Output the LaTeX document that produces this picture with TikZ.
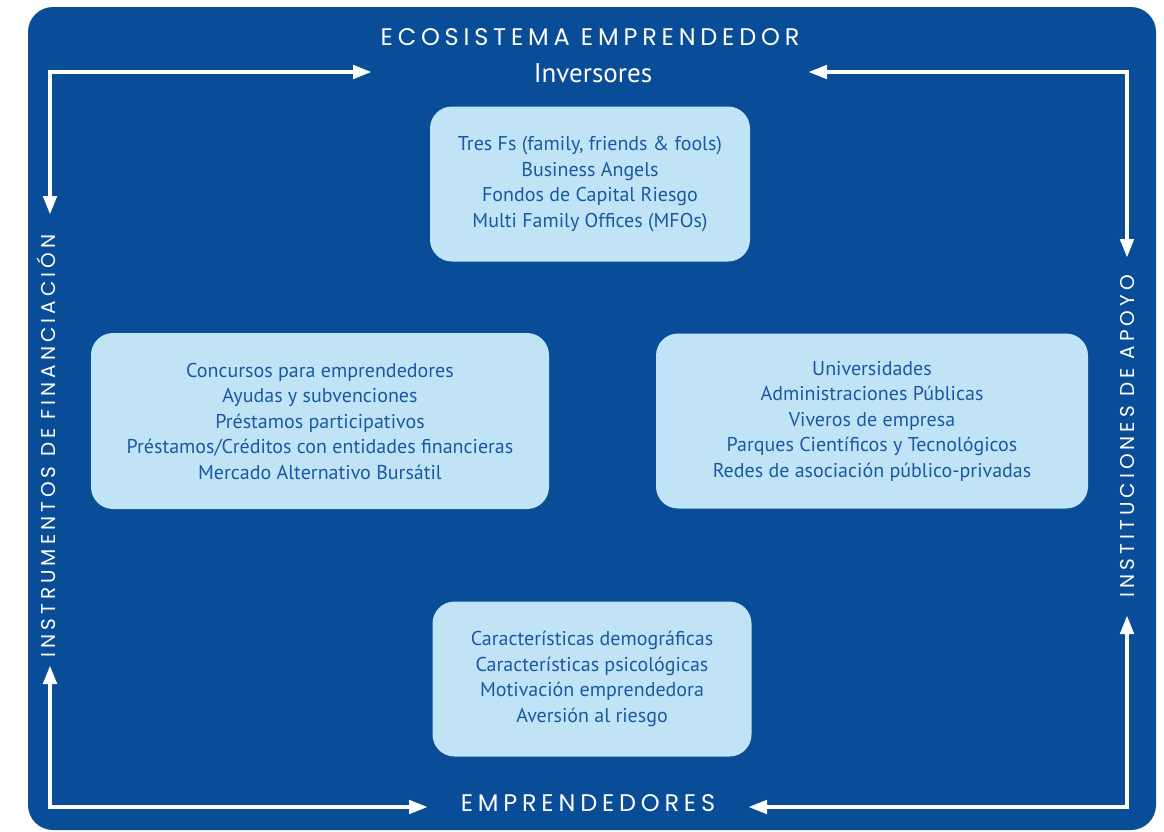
\documentclass[tikz,border=0pt]{standalone}
\usepackage{fontspec}
\setmainfont{PT Sans}
\newfontfamily\techfont[LetterSpace=20]{Poppins}
\usepackage{tikz}
\usetikzlibrary{arrows.meta,positioning}

\definecolor{ecoblue}{RGB}{9,76,152}
\definecolor{boxblue}{RGB}{192,228,246}
\definecolor{txtblue}{RGB}{28,88,162}

\begin{document}
\begin{tikzpicture}[x=1pt, y=-1pt,
  box/.style={fill=boxblue, rounded corners=22pt, align=center, text=txtblue, inner sep=0pt,
    font=\fontsize{20}{25.5}\selectfont},
  title/.style={text=white, font=\techfont\fontsize{24}{24}\selectfont, inner sep=1pt},
  side/.style={text=white, font=\techfont\fontsize{20}{20}\selectfont, inner sep=1pt, rotate=90},
  arr/.style={{Triangle[length=19pt,width=13pt]}-{Triangle[length=19pt,width=13pt]}, white, line width=4.5pt}]
  \useasboundingbox (0,0) rectangle (1164,831);
  \fill[ecoblue, rounded corners=25pt] (28,7) rectangle (1156,830);

  % titulos
  \node[title] (eco) at (590,37) {ECOSISTEMA EMPRENDEDOR};
  \node[text=white, font=\fontsize{27}{27}\selectfont] (inv) at (593,73) {Inversores};
  \node[title] (emp) at (588,803) {EMPRENDEDORES};
  \node[side] (fin) at (46,446) {INSTRUMENTOS DE FINANCIACIÓN};
  \node[side] (apo) at (1127,436) {INSTITUCIONES DE APOYO};

  % cajas
  \node[box, minimum width=320pt, minimum height=155pt] (inversores) at (590,184)
    {Tres Fs (family, friends \& fools)\\Business Angels\\Fondos de Capital Riesgo\\Multi Family Offices (MFOs)};
  \node[box, minimum width=458pt, minimum height=176pt] (instrumentos) at (320,421)
    {Concursos para emprendedores\\Ayudas y subvenciones\\Préstamos participativos\\Préstamos/Créditos con entidades financieras\\Mercado Alternativo Bursátil};
  \node[box, minimum width=432pt, minimum height=175pt] (instituciones) at (872,421)
    {Universidades\\Administraciones Públicas\\Viveros de empresa\\Parques Científicos y Tecnológicos\\Redes de asociación público-privadas};
  \node[box, minimum width=319pt, minimum height=155pt] (emprendedores) at (592,679)
    {Características demográficas\\Características psicológicas\\Motivación emprendedora\\Aversión al riesgo};

  % flechas de las esquinas
  \coordinate (tl) at (50,72);   \coordinate (tlv) at (50,215);   \coordinate (tlh) at (372,72);
  \coordinate (tr) at (1127,72); \coordinate (trv) at (1127,258); \coordinate (trh) at (808,72);
  \coordinate (bl) at (50,807);  \coordinate (blv) at (50,665);   \coordinate (blh) at (428,807);
  \coordinate (br) at (1127,807);\coordinate (brv) at (1127,615); \coordinate (brh) at (748,807);
  \draw[arr] (tlv) -- (tl) -- (tlh);
  \draw[arr] (trh) -- (tr) -- (trv);
  \draw[arr] (blv) -- (bl) -- (blh);
  \draw[arr] (brh) -- (br) -- (brv);
\end{tikzpicture}
\end{document}
